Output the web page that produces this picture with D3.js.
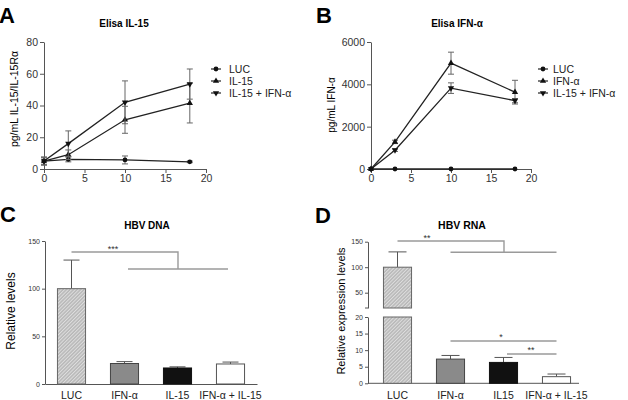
<!DOCTYPE html>
<html>
<head>
<meta charset="utf-8">
<script src="https://cdn.jsdelivr.net/npm/d3@7"></script>
<style>
  body { margin: 0; background: #fff; }
  text { font-family: "Liberation Sans", Arial, sans-serif; }
</style>
</head>
<body>
<svg id="fig" width="628" height="400"></svg>
<script>
// ---- data ----
const timeA = [0, 3, 10, 18];
const lucA = [5, 6, 5.7, 4.5];
const lucAErr = [2.5, 1.5, 2.5, 0.5];
const il15A = [5, 9, 31, 41.5];
const il15AErr = [2, 3, 8.5, 12.5];
const il15IfnA = [5, 16, 42, 53.5];
const il15IfnAErr = [2.5, 8, 13.5, 9.5];

const timeB = [0, 3, 10, 18];
const lucB = [0, 0, 0, 0];
const lucBErr = [0, 0, 0, 0];
const ifnB = [0, 1280, 5000, 3630];
const ifnBErr = [0, 80, 520, 560];
const il15IfnB = [0, 890, 3820, 3230];
const il15IfnBErr = [0, 60, 250, 100];

const catsC = ["LUC", "IFN-α", "IL-15", "IFN-α + IL-15"];
const valsC = [100, 21.5, 16.8, 21];
const errC = [30, 2, 1.2, 2];

const catsD = ["LUC", "IFN-α", "IL15", "IFN-α + IL-15"];
const valsD = [100, 7.3, 6.3, 2.0];
const errD = [30, 1.1, 1.5, 0.8];

const xTicksLine = [0, 5, 10, 15, 20];
const yTicksA = [0, 20, 40, 60, 80];
const yTicksB = [0, 2000, 4000, 6000];
const yTicksC = [0, 50, 100, 150];
const yTicksDLow = [0, 5, 10, 15, 20];
const yTicksDHigh = [50, 100, 150];

const svg = d3.select("#fig");
const axisColor = "#555";

// hatched pattern for LUC bars
const defs = svg.append("defs");
const pat = defs.append("pattern")
    .attr("id", "hatch")
    .attr("patternUnits", "userSpaceOnUse")
    .attr("width", 2.5).attr("height", 2.5)
    .attr("patternTransform", "rotate(-45)");
pat.append("rect").attr("width", 2.5).attr("height", 2.5).attr("fill", "#b8b8b8");
pat.append("rect").attr("width", 2.5).attr("height", 1).attr("fill", "#dedede");

function styleAxis(g, fontSize) {
    g.selectAll("path, line").attr("stroke", axisColor);
    g.selectAll("text")
        .attr("fill", "#333")
        .style("font-size", fontSize + "px")
        .style("font-family", "'Liberation Sans', Arial, sans-serif");
}

function panelLetter(x, y, t) {
    svg.append("text").attr("x", x).attr("y", y)
        .style("font-size", "22px").style("font-weight", "bold").text(t);
}

function title(x, y, t, size) {
    svg.append("text").attr("x", x).attr("y", y)
        .attr("text-anchor", "middle")
        .style("font-size", size + "px").style("font-weight", "bold").text(t);
}

function yLabel(x, y, t, size) {
    svg.append("text")
        .attr("text-anchor", "middle")
        .attr("transform", `translate(${x},${y}) rotate(-90)`)
        .style("font-size", size + "px")
        .text(t);
}

const symTri = d3.symbol().type(d3.symbolTriangle).size(17);
const symCircle = d3.symbol().type(d3.symbolCircle).size(18);

function marker(g, kind, x, y) {
    if (kind === "circle") {
        g.append("path").attr("d", symCircle()).attr("transform", `translate(${x},${y})`).attr("fill", "#111");
    } else if (kind === "up") {
        g.append("path").attr("d", symTri()).attr("transform", `translate(${x},${y})`).attr("fill", "#111");
    } else {
        g.append("path").attr("d", symTri()).attr("transform", `translate(${x},${y}) rotate(180)`).attr("fill", "#111");
    }
}

function lineChart(cfg) {
    const x = d3.scaleLinear().domain([0, 20]).range(cfg.xRange);
    const y = d3.scaleLinear().domain(cfg.yDomain).range(cfg.yRange);

    const gx = svg.append("g")
        .attr("transform", `translate(0,${cfg.yRange[0]})`)
        .call(d3.axisBottom(x).tickValues(xTicksLine).tickSize(4).tickSizeOuter(0).tickPadding(2));
    styleAxis(gx, 10.5);
    const gy = svg.append("g")
        .attr("transform", `translate(${cfg.xRange[0]},0)`)
        .call(d3.axisLeft(y).tickValues(cfg.yTicks).tickFormat(d3.format("d"))
            .tickSize(4).tickSizeOuter(0).tickPadding(2));
    styleAxis(gy, 10.5);

    const line = d3.line().x((d, i) => x(cfg.time[i])).y(d => y(d));
    cfg.series.forEach(s => {
        const g = svg.append("g");
        // error bars
        s.values.forEach((v, i) => {
            const e = s.err[i];
            if (!e) return;
            const cx = x(cfg.time[i]);
            g.append("line").attr("x1", cx).attr("x2", cx)
                .attr("y1", y(v - e)).attr("y2", y(v + e))
                .attr("stroke", "#666").attr("stroke-width", 1);
            [v - e, v + e].forEach(ev => {
                g.append("line").attr("x1", cx - 3).attr("x2", cx + 3)
                    .attr("y1", y(ev)).attr("y2", y(ev))
                    .attr("stroke", "#666").attr("stroke-width", 1);
            });
        });
        g.append("path").datum(s.values)
            .attr("d", line)
            .attr("fill", "none")
            .attr("stroke", "#222")
            .attr("stroke-width", 1.3);
        s.values.forEach((v, i) => marker(g, s.kind, x(cfg.time[i]), y(v)));
    });

    // legend
    cfg.series.forEach((s, i) => {
        const ly = cfg.legendY + i * 12;
        const g = svg.append("g");
        g.append("line").attr("x1", cfg.legendX - 5).attr("x2", cfg.legendX + 5)
            .attr("y1", ly).attr("y2", ly).attr("stroke", "#222").attr("stroke-width", 1.2);
        marker(g, s.kind, cfg.legendX, ly);
        g.append("text").attr("x", cfg.legendX + cfg.legendGap).attr("y", ly + 4)
            .style("font-size", "10.5px").attr("fill", "#222").text(s.name);
    });
}

// ---- Panel A ----
panelLetter(-1, 23, "A");
title(124, 27, "Elisa IL-15", 10);
yLabel(18, 99, "pg/mL IL-15/IL-15Rα", 10.5);
lineChart({
    xRange: [44, 206], yRange: [169, 42], yDomain: [0, 80], yTicks: yTicksA,
    time: timeA,
    series: [
        { name: "LUC", kind: "circle", values: lucA, err: lucAErr },
        { name: "IL-15", kind: "up", values: il15A, err: il15AErr },
        { name: "IL-15 + IFN-α", kind: "down", values: il15IfnA, err: il15IfnAErr }
    ],
    legendX: 216, legendY: 69, legendGap: 13
});

// ---- Panel B ----
panelLetter(316, 23, "B");
title(457, 27, "Elisa IFN-α", 10);
yLabel(335, 105, "pg/mL IFN-α", 10);
lineChart({
    xRange: [371, 531], yRange: [169, 42], yDomain: [0, 6000], yTicks: yTicksB,
    time: timeB,
    series: [
        { name: "LUC", kind: "circle", values: lucB, err: lucBErr },
        { name: "IFN-α", kind: "up", values: ifnB, err: ifnBErr },
        { name: "IL-15 + IFN-α", kind: "down", values: il15IfnB, err: il15IfnBErr }
    ],
    legendX: 543, legendY: 69, legendGap: 10
});

// ---- bar helpers ----
const barFills = ["url(#hatch)", "#8a8a8a", "#111", "#fff"];
const barStrokes = ["#666", "#444", "#111", "#555"];

function sigLine(pts, color) {
    svg.append("path")
        .attr("d", d3.line()(pts))
        .attr("fill", "none").attr("stroke", color || "#9a9a9a").attr("stroke-width", 1.4);
}
function stars(x, y, t) {
    svg.append("text").attr("x", x).attr("y", y).attr("text-anchor", "middle")
        .style("font-size", "9px").attr("fill", "#333").text(t);
}

// ---- Panel C ----
panelLetter(0, 222, "C");
title(147, 229, "HBV DNA", 10);
yLabel(15, 311, "Relative levels", 12);
{
    const x = d3.scaleBand().domain(catsC).range([45, 257]).paddingInner(0.47).paddingOuter(0.235);
    const y = d3.scaleLinear().domain([0, 150]).range([384, 241]);
    const gx = svg.append("g").attr("transform", "translate(0,384)")
        .call(d3.axisBottom(x).tickSize(0).tickSizeOuter(0).tickPadding(8));
    styleAxis(gx, 10.5);
    gx.selectAll("text").attr("fill", "#222");
    const gy = svg.append("g").attr("transform", "translate(45,0)")
        .call(d3.axisLeft(y).tickValues(yTicksC).tickSize(3).tickSizeOuter(0).tickPadding(2));
    styleAxis(gy, 7);

    catsC.forEach((c, i) => {
        const cx = x(c) + x.bandwidth() / 2;
        svg.append("line").attr("x1", cx).attr("x2", cx)
            .attr("y1", y(valsC[i])).attr("y2", y(valsC[i] + errC[i]))
            .attr("stroke", "#555").attr("stroke-width", 1);
        svg.append("line").attr("x1", cx - 8).attr("x2", cx + 8)
            .attr("y1", y(valsC[i] + errC[i])).attr("y2", y(valsC[i] + errC[i]))
            .attr("stroke", "#555").attr("stroke-width", 1);
        svg.append("rect")
            .attr("x", x(c)).attr("y", y(valsC[i]))
            .attr("width", x.bandwidth()).attr("height", y(0) - y(valsC[i]))
            .attr("fill", barFills[i]).attr("stroke", barStrokes[i]).attr("stroke-width", 1);
    });

    const cC = i => x(catsC[i]) + x.bandwidth() / 2;
    sigLine([[cC(0), 252], [178, 252], [178, 269]]);
    sigLine([[128, 269], [228, 269]]);
    stars(113, 252, "***");
}

// ---- Panel D (broken axis) ----
panelLetter(315, 223, "D");
title(462, 229, "HBV RNA", 10.5);
yLabel(345, 311, "Relative expression levels", 11);
{
    const x = d3.scaleBand().domain(catsD).range([371, 583]).paddingInner(0.47).paddingOuter(0.235);
    const yLow = d3.scaleLinear().domain([0, 20]).range([383.3, 317]);
    const yHigh = d3.scaleLinear().domain([20, 150]).range([308, 241.7]);

    const gx = svg.append("g").attr("transform", "translate(0,383.3)")
        .call(d3.axisBottom(x).tickSize(0).tickSizeOuter(0).tickPadding(8));
    styleAxis(gx, 10.5);
    gx.select(".domain").attr("d", "M368,0H579");
    gx.selectAll("text").attr("fill", "#222");
    const gyL = svg.append("g").attr("transform", "translate(368,0)")
        .call(d3.axisLeft(yLow).tickValues(yTicksDLow).tickSize(3).tickSizeOuter(0).tickPadding(2));
    styleAxis(gyL, 7);
    const gyH = svg.append("g").attr("transform", "translate(368,0)")
        .call(d3.axisLeft(yHigh).tickValues(yTicksDHigh).tickSize(3).tickSizeOuter(0).tickPadding(2));
    styleAxis(gyH, 7);
    gyH.append("line").attr("x1", -3).attr("x2", 0).attr("y1", 308).attr("y2", 308).attr("stroke", axisColor);

    catsD.forEach((c, i) => {
        const cx = x(c) + x.bandwidth() / 2;
        const v = valsD[i], e = errD[i];
        if (v > 20) {
            svg.append("line").attr("x1", cx).attr("x2", cx)
                .attr("y1", yHigh(v)).attr("y2", yHigh(v + e)).attr("stroke", "#555");
            svg.append("line").attr("x1", cx - 9).attr("x2", cx + 9)
                .attr("y1", yHigh(v + e)).attr("y2", yHigh(v + e)).attr("stroke", "#555");
            svg.append("rect").attr("x", x(c)).attr("y", yLow(20))
                .attr("width", x.bandwidth()).attr("height", yLow(0) - yLow(20))
                .attr("fill", barFills[i]).attr("stroke", barStrokes[i]);
            svg.append("rect").attr("x", x(c)).attr("y", yHigh(v))
                .attr("width", x.bandwidth()).attr("height", yHigh(20) - yHigh(v))
                .attr("fill", barFills[i]).attr("stroke", barStrokes[i]);
        } else {
            svg.append("line").attr("x1", cx).attr("x2", cx)
                .attr("y1", yLow(v)).attr("y2", yLow(v + e)).attr("stroke", "#555");
            svg.append("line").attr("x1", cx - 9).attr("x2", cx + 9)
                .attr("y1", yLow(v + e)).attr("y2", yLow(v + e)).attr("stroke", "#555");
            svg.append("rect").attr("x", x(c)).attr("y", yLow(v))
                .attr("width", x.bandwidth()).attr("height", yLow(0) - yLow(v))
                .attr("fill", barFills[i]).attr("stroke", barStrokes[i]);
        }
    });

    const cD = i => x(catsD[i]) + x.bandwidth() / 2;
    sigLine([[cD(0), 241], [504, 241], [504, 252.3]]);
    sigLine([[cD(1), 252.3], [cD(3), 252.3]]);
    stars(427, 241, "**");
    sigLine([[cD(1), 341], [cD(3), 341]]);
    stars(501, 340, "*");
    sigLine([[507, 354], [cD(3), 354]]);
    stars(531, 353, "**");
}
</script>
</body>
</html>
